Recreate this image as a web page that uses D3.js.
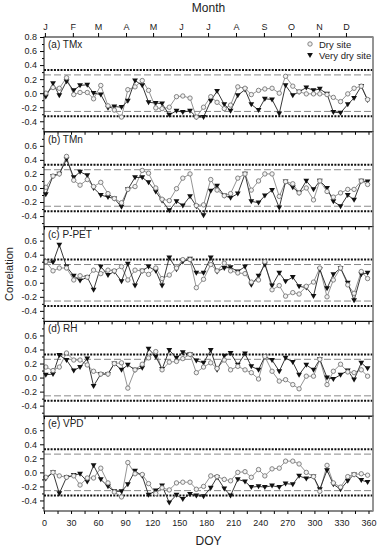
<!DOCTYPE html>
<html>
<head>
<meta charset="utf-8">
<script src="https://cdn.jsdelivr.net/npm/d3@7"></script>
<style>
  body { margin: 0; background: #fff; }
  svg { display: block; }
  text { font-family: "Liberation Sans", Arial, sans-serif; fill: #222; }
</style>
</head>
<body>
<div id="chart"></div>
<script>
// x positions (day of year) of the 48 quarter-month values
const doy = [2, 10, 17, 25, 33, 40, 48, 55, 63, 71, 78, 86, 93, 101, 109, 116,
  124, 131, 139, 147, 154, 162, 169, 177, 185, 192, 200, 207, 215, 223, 230, 238,
  245, 253, 261, 268, 276, 283, 291, 299, 306, 314, 321, 329, 337, 344, 352, 359];

const months = ['J', 'F', 'M', 'A', 'M', 'J', 'J', 'A', 'S', 'O', 'N', 'D'];
const monthStart = [1, 32, 60, 91, 121, 152, 182, 213, 244, 274, 305, 335];

const panelLabels = ['(a) TMx', '(b) TMn', '(c) P-PET', '(d) RH', '(e) VPD'];
const seriesNames = ['Dry site', 'Very dry site'];

// significance lines
const dottedLevels = [0.33, -0.33];
const dashedLevels = [0.26, -0.26];

const tmxDry = [0.0, 0.08, 0.07, 0.22, -0.02, 0.01, 0.01, -0.08, 0.11, -0.18, -0.24, -0.34, 0.05, 0.09, 0.18, 0.04,
  -0.21, -0.22, -0.2, -0.05, -0.04, -0.07, -0.34, -0.2, -0.05, -0.13, -0.22, -0.17, 0.09, 0.07, -0.02, 0.04,
  0.06, 0.07, 0.0, 0.24, 0.1, 0.02, -0.01, -0.01, -0.01, -0.02, -0.06, -0.12, -0.01, 0.07, 0.1, -0.09];
const tmxVeryDry = [-0.05, 0.14, -0.03, 0.17, 0.04, 0.11, 0.12, 0.0, -0.02, -0.21, -0.19, -0.2, -0.11, 0.18, 0.11, -0.13,
  -0.14, -0.15, -0.31, -0.25, -0.27, -0.25, -0.34, -0.34, -0.11, 0.03, -0.16, -0.25, -0.03, 0.05, -0.16, -0.24,
  -0.08, -0.09, -0.29, 0.11, -0.03, 0.02, 0.08, 0.04, 0.06, -0.01, -0.27, -0.28, -0.16, -0.07, 0.1, -0.1];

const tmnDry = [0.01, 0.17, 0.2, 0.45, 0.11, 0.04, 0.12, 0.02, 0.08, -0.08, -0.15, -0.21, -0.02, 0.02, 0.25, 0.21,
  0.0, -0.16, -0.18, -0.01, 0.14, 0.2, -0.25, -0.24, 0.12, -0.03, -0.11, -0.08, 0.14, 0.2, -0.03, 0.1,
  0.2, 0.2, -0.12, 0.09, 0.06, -0.07, 0.0, -0.17, 0.1, -0.05, -0.13, -0.07, -0.02, -0.02, 0.1, 0.05];
const tmnVeryDry = [-0.09, 0.17, 0.2, 0.41, 0.15, 0.23, 0.18, 0.0, -0.1, -0.13, -0.15, -0.27, -0.02, 0.15, 0.15, 0.08,
  -0.05, -0.18, -0.32, -0.19, -0.25, -0.12, -0.26, -0.39, -0.04, 0.03, -0.11, -0.14, -0.08, 0.2, -0.19, -0.21,
  -0.11, -0.03, -0.28, 0.09, 0.01, -0.07, 0.1, -0.02, 0.1, 0.0, -0.19, -0.26, -0.1, -0.17, 0.1, 0.09];

const ppetDry = [0.3, 0.17, 0.21, 0.21, 0.04, 0.1, 0.08, 0.18, 0.13, 0.18, 0.17, 0.23, 0.04, 0.18, 0.17, 0.12,
  0.21, 0.06, 0.11, 0.21, 0.33, 0.33, -0.07, 0.05, 0.26, 0.17, 0.28, 0.17, 0.14, 0.13, 0.01, 0.04,
  0.3, -0.1, -0.04, -0.19, -0.14, -0.16, -0.05, 0.01, 0.21, -0.2, 0.04, 0.21, -0.03, -0.15, 0.16, 0.06];
const ppetVeryDry = [0.3, 0.29, 0.54, 0.23, 0.1, 0.03, 0.08, -0.1, 0.23, 0.11, 0.16, 0.02, 0.27, -0.04, 0.17, 0.23,
  0.17, -0.04, 0.36, 0.19, 0.3, 0.34, 0.14, 0.14, 0.36, 0.16, 0.21, 0.22, 0.16, 0.23, -0.03, 0.1,
  0.26, -0.04, 0.14, 0.02, 0.08, -0.05, -0.07, -0.19, 0.19, -0.08, 0.12, 0.21, 0.0, -0.25, 0.12, 0.14];

const rhDry = [0.15, 0.1, 0.15, 0.35, 0.25, 0.25, 0.18, 0.09, 0.05, 0.05, 0.2, 0.21, -0.15, 0.11, 0.19, 0.28,
  0.37, 0.11, 0.22, 0.23, 0.27, 0.33, 0.07, 0.15, 0.21, 0.13, 0.25, 0.11, 0.16, 0.11, 0.07, -0.02,
  0.3, 0.09, -0.05, -0.03, -0.1, -0.16, 0.02, 0.02, 0.26, -0.1, 0.09, 0.19, 0.08, 0.07, 0.11, 0.02];
const rhVeryDry = [0.04, 0.05, 0.32, 0.25, 0.1, 0.15, 0.27, -0.12, 0.05, 0.05, 0.2, 0.11, 0.18, 0.11, 0.14, 0.41,
  0.3, 0.12, 0.39, 0.28, 0.36, 0.33, 0.24, 0.21, 0.39, 0.11, 0.31, 0.35, 0.18, 0.34, 0.16, 0.11,
  0.3, 0.25, 0.09, 0.28, 0.22, 0.04, 0.18, 0.11, 0.26, 0.0, -0.02, 0.04, 0.1, -0.03, 0.21, 0.13];

const vpdDry = [-0.07, 0.0, -0.05, -0.07, -0.05, -0.18, -0.08, -0.08, 0.06, -0.15, -0.28, -0.35, 0.14, -0.02, -0.03, -0.16,
  -0.3, -0.22, -0.25, -0.15, -0.14, -0.14, -0.24, -0.2, -0.05, -0.06, -0.1, -0.12, 0.0, 0.01, -0.07, 0.04,
  -0.05, 0.05, 0.06, 0.16, 0.16, 0.12, 0.0, -0.06, -0.27, 0.1, -0.15, -0.21, -0.06, -0.03, -0.02, -0.04];
const vpdVeryDry = [-0.09, 0.0, -0.3, -0.07, -0.04, -0.02, -0.13, 0.1, -0.1, -0.2, -0.27, -0.27, -0.17, 0.02, -0.05, -0.32,
  -0.26, -0.19, -0.43, -0.32, -0.38, -0.31, -0.33, -0.34, -0.22, -0.07, -0.23, -0.33, -0.1, -0.13, -0.21, -0.2,
  -0.21, -0.19, -0.21, -0.16, -0.17, -0.05, -0.09, -0.06, -0.24, 0.03, -0.17, -0.24, -0.12, -0.03, -0.11, -0.14];

const dryValues = [tmxDry, tmnDry, ppetDry, rhDry, vpdDry];
const veryDryValues = [tmxVeryDry, tmnVeryDry, ppetVeryDry, rhVeryDry, vpdVeryDry];

const W = 387, H = 550;
const plotLeft = 44, plotRight = 373, plotTop = 37, plotBottom = 511;
const panelH = (plotBottom - plotTop) / panelLabels.length;

const svg = d3.select('#chart').append('svg')
  .attr('width', W)
  .attr('height', H);

const x = d3.scaleLinear().domain([0, 365]).range([plotLeft, plotRight]);

const fmt = d => d.toFixed(1);
const trianglePath = 'M-2.9,-2.1L2.9,-2.1L0,2.9Z';

panelLabels.forEach((label, i) => {
  const y0 = plotTop + i * panelH;
  const y = d3.scaleLinear().domain([-0.55, 0.8]).range([y0 + panelH, y0]);
  const g = svg.append('g');

  // reference lines
  g.selectAll('.dash')
    .data(dashedLevels)
    .enter().append('line')
    .attr('x1', plotLeft).attr('x2', plotRight)
    .attr('y1', d => y(d)).attr('y2', d => y(d))
    .attr('stroke', '#8a8a8a')
    .attr('stroke-width', 1)
    .attr('stroke-dasharray', '7,3');

  g.selectAll('.dot')
    .data(dottedLevels)
    .enter().append('line')
    .attr('x1', plotLeft).attr('x2', plotRight)
    .attr('y1', d => y(d)).attr('y2', d => y(d))
    .attr('stroke', '#111')
    .attr('stroke-width', 2)
    .attr('stroke-dasharray', '2,1.3');

  // series lines
  const line = d3.line().x((d, j) => x(doy[j])).y(d => y(d));
  g.append('path')
    .datum(dryValues[i])
    .attr('d', line)
    .attr('fill', 'none')
    .attr('stroke', '#888')
    .attr('stroke-width', 0.9);
  g.append('path')
    .datum(veryDryValues[i])
    .attr('d', line)
    .attr('fill', 'none')
    .attr('stroke', '#222')
    .attr('stroke-width', 0.9);

  g.selectAll('.tri')
    .data(veryDryValues[i])
    .enter().append('path')
    .attr('d', trianglePath)
    .attr('transform', (d, j) => `translate(${x(doy[j])},${y(d)})`)
    .attr('fill', '#111');

  g.selectAll('.circ')
    .data(dryValues[i])
    .enter().append('circle')
    .attr('cx', (d, j) => x(doy[j]))
    .attr('cy', d => y(d))
    .attr('r', 2.2)
    .attr('fill', '#f2f2f2')
    .attr('stroke', '#777')
    .attr('stroke-width', 0.9);

  // left axis
  const major = i === 0 ? [-0.4, -0.2, 0, 0.2, 0.4, 0.6, 0.8] : [-0.4, -0.2, 0, 0.2, 0.4, 0.6];
  const yAxis = g.append('g')
    .attr('transform', `translate(${plotLeft},0)`)
    .call(d3.axisLeft(y).tickValues(major).tickFormat(fmt).tickSize(4).tickPadding(3));
  yAxis.select('.domain').remove();
  yAxis.selectAll('text').style('font-size', '9px').attr('fill', '#222');

  const yMinor = g.append('g')
    .attr('transform', `translate(${plotLeft},0)`)
    .call(d3.axisLeft(y).tickValues([-0.5, -0.3, -0.1, 0.1, 0.3, 0.5, 0.7]).tickFormat('').tickSize(2));
  yMinor.select('.domain').remove();

  // bottom ticks of each panel
  const xAxis = g.append('g')
    .attr('transform', `translate(0,${y0 + panelH})`)
    .call(d3.axisBottom(x)
      .tickValues(d3.range(0, 361, 15))
      .tickSize(3)
      .tickPadding(6)
      .tickFormat(d => (i === panelLabels.length - 1 && d % 30 === 0) ? d : ''));
  xAxis.select('.domain').remove();
  xAxis.selectAll('text').style('font-size', '9px').attr('fill', '#222');

  // frame
  g.append('rect')
    .attr('x', plotLeft).attr('y', y0)
    .attr('width', plotRight - plotLeft).attr('height', panelH)
    .attr('fill', 'none')
    .attr('stroke', '#111')
    .attr('stroke-width', 1);
  g.append('line')
    .attr('x1', plotRight).attr('x2', plotRight)
    .attr('y1', y0).attr('y2', y0 + panelH)
    .attr('stroke', '#999')
    .attr('stroke-width', 1.6);

  g.append('text')
    .attr('x', plotLeft + 4)
    .attr('y', y0 + 11)
    .style('font-size', '10px')
    .text(label);
});

// month axis on top
const topAxis = svg.append('g')
  .attr('transform', `translate(0,${plotTop})`)
  .call(d3.axisTop(x).tickValues(monthStart).tickFormat((d, i) => months[i]).tickSize(4).tickPadding(3));
topAxis.select('.domain').remove();
topAxis.selectAll('text').style('font-size', '9px').attr('fill', '#222');

// legend
const legend = svg.append('g').attr('transform', `translate(310,${plotTop + 7})`);
legend.append('circle')
  .attr('cx', 0).attr('cy', 0).attr('r', 2.2)
  .attr('fill', '#f2f2f2').attr('stroke', '#777').attr('stroke-width', 0.9);
legend.append('text').attr('x', 9).attr('y', 3.5).style('font-size', '9.5px').text(seriesNames[0]);
legend.append('path').attr('d', trianglePath).attr('transform', 'translate(0,11)').attr('fill', '#111');
legend.append('text').attr('x', 9).attr('y', 14.5).style('font-size', '9.5px').text(seriesNames[1]);

// axis titles
svg.append('text')
  .attr('x', (plotLeft + plotRight) / 2)
  .attr('y', 12)
  .attr('text-anchor', 'middle')
  .style('font-size', '12px')
  .text('Month');

svg.append('text')
  .attr('x', (plotLeft + plotRight) / 2)
  .attr('y', 545)
  .attr('text-anchor', 'middle')
  .style('font-size', '12px')
  .text('DOY');

svg.append('text')
  .attr('transform', `translate(13,${(plotTop + plotBottom) / 2}) rotate(-90)`)
  .attr('text-anchor', 'middle')
  .style('font-size', '11px')
  .text('Correlation');
</script>
</body>
</html>
